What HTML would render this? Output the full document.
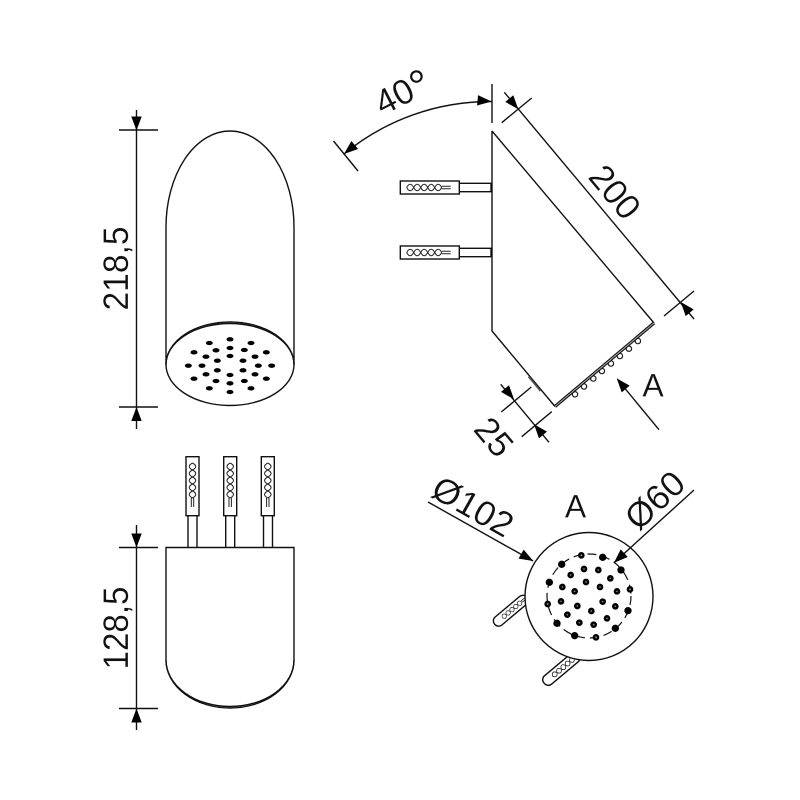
<!DOCTYPE html>
<html><head><meta charset="utf-8"><style>
html,body{margin:0;padding:0;background:#fff}
svg{display:block}
text{font-family:"Liberation Sans",sans-serif;font-size:35px;fill:#111;stroke:#fff;stroke-width:.2px;text-anchor:middle}
.l{fill:none;stroke:#111;stroke-width:1.4}
.w{fill:#fff;stroke:#111;stroke-width:1.4}
</style></head><body>
<svg width="800" height="800" viewBox="0 0 800 800" xmlns="http://www.w3.org/2000/svg">
<defs>
<path id="a" d="M0 0L-14-5.2L-14 5.2Z" fill="#000"/>
<g id="tw" fill="none" stroke="#222" stroke-width="1">
<path d="M0 0Q3.5 -6.5 7 0T14 0Q17.5 -6.5 21 0T28 0Q31.5 -6.5 35 0"/>
<path d="M0 0Q3.5 6.5 7 0T14 0Q17.5 6.5 21 0T28 0Q31.5 6.5 35 0"/>
<path d="M35 -1.2H44M35 1.2H44"/>
</g>
</defs>

<!-- top-left view -->
<path class="l" d="M136.5 110V429M119 130H158M119 407H158"/>
<use href="#a" transform="translate(136.5,130.5) rotate(90)"/>
<use href="#a" transform="translate(136.5,407) rotate(-90)"/>
<path class="l" d="M166 365V227A64 96 0 0 1 294 227V365"/>
<ellipse class="w" cx="230" cy="364.5" rx="64" ry="41"/>
<path class="l" d="M166 364.5A64 42.5 0 0 1 294 364.5" stroke-width="1"/>
<g transform="translate(90 110) scale(.33333)" fill="#000">
<ellipse cx="358" cy="699" rx="10.5" ry="6.5"/><ellipse cx="420" cy="688" rx="10.5" ry="6.5"/><ellipse cx="483" cy="699" rx="10.5" ry="6.5"/><ellipse cx="378" cy="721" rx="10.5" ry="6.5"/><ellipse cx="420" cy="714" rx="10.5" ry="6.5"/><ellipse cx="463" cy="720" rx="10.5" ry="6.5"/><ellipse cx="312" cy="727" rx="10.5" ry="6.5"/><ellipse cx="529" cy="727" rx="10.5" ry="6.5"/><ellipse cx="348" cy="740" rx="10.5" ry="6.5"/><ellipse cx="420" cy="738" rx="10.5" ry="6.5"/><ellipse cx="495" cy="740" rx="10.5" ry="6.5"/><ellipse cx="382" cy="752" rx="10.5" ry="6.5"/><ellipse cx="459" cy="752" rx="10.5" ry="6.5"/><ellipse cx="295" cy="767" rx="10.5" ry="6.5"/><ellipse cx="336" cy="767" rx="10.5" ry="6.5"/><ellipse cx="505" cy="767" rx="10.5" ry="6.5"/><ellipse cx="545" cy="767" rx="10.5" ry="6.5"/><ellipse cx="382" cy="781" rx="10.5" ry="6.5"/><ellipse cx="459" cy="781" rx="10.5" ry="6.5"/><ellipse cx="348" cy="793" rx="10.5" ry="6.5"/><ellipse cx="420" cy="795" rx="10.5" ry="6.5"/><ellipse cx="495" cy="793" rx="10.5" ry="6.5"/><ellipse cx="312" cy="806" rx="10.5" ry="6.5"/><ellipse cx="529" cy="806" rx="10.5" ry="6.5"/><ellipse cx="378" cy="813" rx="10.5" ry="6.5"/><ellipse cx="463" cy="813" rx="10.5" ry="6.5"/><ellipse cx="420" cy="820" rx="10.5" ry="6.5"/><ellipse cx="358" cy="835" rx="10.5" ry="6.5"/><ellipse cx="483" cy="835" rx="10.5" ry="6.5"/><ellipse cx="420" cy="846" rx="10.5" ry="6.5"/>
</g>
<text transform="translate(128,268.5) rotate(-90)" textLength="84" lengthAdjust="spacingAndGlyphs">218,5</text>

<!-- bottom-left view -->
<path class="l" d="M136.5 525V730M119 547.5H158M119 708.5H158"/>
<use href="#a" transform="translate(136.5,547.5) rotate(90)"/>
<use href="#a" transform="translate(136.5,708.5) rotate(-90)"/>
<path class="l" d="M166 547.5H294V660A64 48 0 0 1 166 660Z"/>
<path class="l" d="M166 660A64 46.5 0 0 0 294 660" stroke-width="1"/>
<path class="l" d="M188 516V547M197 516V547M225.7 516V547M234.7 516V547M263.5 516V547M272.5 516V547"/>
<rect class="w" x="186" y="456.7" width="13" height="59"/>
<rect class="w" x="223.7" y="456.7" width="13" height="59"/>
<rect class="w" x="261.3" y="456.7" width="13" height="59"/>
<use href="#tw" transform="translate(192.5,463) rotate(90)"/>
<use href="#tw" transform="translate(230.2,463) rotate(90)"/>
<use href="#tw" transform="translate(267.8,463) rotate(90)"/>
<text transform="translate(128,628) rotate(-90)" textLength="83" lengthAdjust="spacingAndGlyphs">128,5</text>

<!-- side view -->
<g fill="#fff" stroke="#222" stroke-width="1.2">
<circle cx="575" cy="394.3" r="2.7"/><circle cx="584" cy="386.5" r="2.7"/><circle cx="593.3" cy="378.5" r="2.7"/><circle cx="601.9" cy="371" r="2.7"/><circle cx="610.9" cy="363.5" r="2.7"/><circle cx="619.9" cy="356" r="2.7"/><circle cx="628.9" cy="348.7" r="2.7"/><circle cx="637.9" cy="341" r="2.7"/>
</g>
<path class="l" d="M492 84V123M492 131V331L555 406.5M492 131L654 323"/>
<path d="M555 406.5L654 323" fill="none" stroke="#111" stroke-width="3.2"/>
<path d="M555 406.5L654 323" fill="none" stroke="#aaa" stroke-width="1"/>
<path d="M528.5 376.5L540.5 391" fill="none" stroke="#555" stroke-width="1.8"/>
<rect class="w" x="459.3" y="183.3" width="31.7" height="8.4"/>
<rect class="w" x="459.3" y="248.3" width="31.7" height="8.4"/>
<rect class="w" x="400.3" y="181" width="59" height="13"/>
<rect class="w" x="400.3" y="246" width="59" height="13"/>
<use href="#tw" transform="translate(406.7,187.5)"/>
<use href="#tw" transform="translate(406.7,252.5)"/>

<!-- 40 deg -->
<path class="l" d="M491.5 101.5A230 230 0 0 0 344 154M333.5 141L358 171"/>
<use href="#a" transform="translate(491.5,101.5) rotate(5)"/>
<use href="#a" transform="translate(344,154) rotate(140)"/>
<text transform="translate(408,103) rotate(-27)">40<tspan style="font-size:46px" dy="6">°</tspan></text>

<!-- 200 -->
<path class="l" d="M504.3 92.3L694 319M501.7 122.7L531.7 98M664 316L694 291"/>
<use href="#a" transform="translate(518.3,109.3) rotate(50)"/>
<use href="#a" transform="translate(680.7,302) rotate(230)"/>
<text transform="translate(605.8,199.7) rotate(50)">200</text>

<!-- 25 -->
<path class="l" d="M500.7 384.3L549 442.3M501.3 412L531.3 387M521.7 436.7L551.7 411.7"/>
<use href="#a" transform="translate(514,399.3) rotate(50)"/>
<use href="#a" transform="translate(534,424.3) rotate(230)"/>
<text transform="translate(484.8,444.7) rotate(50)">25</text>

<!-- A arrow -->
<path class="l" d="M659 429.7L618 380"/>
<use href="#a" transform="translate(616.7,378.3) rotate(230)"/>
<text x="653" y="396.7" style="font-size:32px">A</text>

<!-- detail A -->
<g transform="translate(498.5,621) rotate(-40)">
<rect class="w" x="-5" y="-5.2" width="42" height="10.4" rx="5"/>
<use href="#tw" transform="translate(5,0) scale(.72)"/>
</g>
<g transform="translate(548,680) rotate(-40)">
<rect class="w" x="-5" y="-5.5" width="45" height="11" rx="5"/>
<use href="#tw" transform="translate(6,0) scale(.8)"/>
</g>
<circle class="w" cx="589" cy="596.5" r="64"/>
<circle cx="589" cy="596" r="42" fill="none" stroke="#111" stroke-width="1.2" stroke-dasharray="9 5"/>
<g transform="translate(480 520) scale(.33333)">
<g fill="#000">
<circle cx="304" cy="106" r="10"/><circle cx="368" cy="112" r="11"/><circle cx="245" cy="133" r="11"/><circle cx="423" cy="150" r="11"/><circle cx="208" cy="187" r="11"/><circle cx="450" cy="208" r="10"/><circle cx="203" cy="252" r="10"/><circle cx="444" cy="272" r="11"/><circle cx="231" cy="310" r="11"/><circle cx="406" cy="325" r="11"/><circle cx="284" cy="347" r="11"/><circle cx="348" cy="352" r="10"/>
<circle cx="312" cy="147" r="10"/><circle cx="355" cy="150" r="10"/><circle cx="272" cy="165" r="10"/><circle cx="391" cy="175" r="10"/><circle cx="318" cy="186" r="10"/><circle cx="247" cy="201" r="10"/><circle cx="360" cy="201" r="10"/><circle cx="284" cy="214" r="10"/><circle cx="411" cy="214" r="10"/><circle cx="243" cy="244" r="10"/><circle cx="368" cy="245" r="10"/><circle cx="292" cy="258" r="10"/><circle cx="406" cy="259" r="10"/><circle cx="334" cy="273" r="10"/><circle cx="262" cy="284" r="10"/><circle cx="381" cy="295" r="10"/><circle cx="298" cy="308" r="10"/><circle cx="341" cy="314" r="10"/>
</g>
<g fill="#888">
<circle cx="304" cy="106" r="3"/><circle cx="450" cy="208" r="3"/><circle cx="203" cy="252" r="3"/><circle cx="348" cy="352" r="3"/>
<circle cx="312" cy="147" r="2.5"/><circle cx="355" cy="150" r="2.5"/><circle cx="272" cy="165" r="2.5"/><circle cx="391" cy="175" r="2.5"/><circle cx="318" cy="186" r="2.5"/><circle cx="247" cy="201" r="2.5"/><circle cx="360" cy="201" r="2.5"/><circle cx="284" cy="214" r="2.5"/><circle cx="411" cy="214" r="2.5"/><circle cx="243" cy="244" r="2.5"/><circle cx="368" cy="245" r="2.5"/><circle cx="292" cy="258" r="2.5"/><circle cx="406" cy="259" r="2.5"/><circle cx="334" cy="273" r="2.5"/><circle cx="262" cy="284" r="2.5"/><circle cx="381" cy="295" r="2.5"/><circle cx="298" cy="308" r="2.5"/><circle cx="341" cy="314" r="2.5"/>
</g>
</g>
<path class="l" d="M428 502L533 561M694 490L614 562.7"/>
<use href="#a" transform="translate(533.3,561) rotate(29.5)"/>
<use href="#a" transform="translate(614,562.7) rotate(137)"/>
<text transform="translate(467,517) rotate(29.5)" textLength="87" lengthAdjust="spacingAndGlyphs">Ø102</text>
<text transform="translate(663,509) rotate(-43)" textLength="67" lengthAdjust="spacingAndGlyphs">Ø60</text>
<text x="575.5" y="517.7" style="font-size:32px">A</text>
</svg>
</body></html>
